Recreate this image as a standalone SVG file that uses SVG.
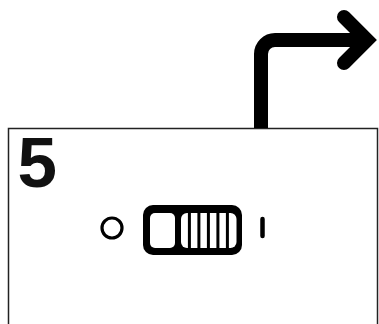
<svg xmlns="http://www.w3.org/2000/svg" width="379" height="324" viewBox="0 0 379 324">
<style>
.frame{fill:#fff;stroke:#222;stroke-width:1.5}
.arrow{fill:none;stroke:#000;stroke-width:14}
.num{font-family:"Liberation Sans",Arial,sans-serif;font-weight:bold;font-size:71px;fill:#111}
</style>
<rect width="379" height="324" fill="#fff"/>
<g id="panel">
<rect class="frame" x="8.5" y="128.5" width="369" height="210"/>
<text class="num" x="17.5" y="187">5</text>
</g>
<g id="connectors">
<path class="arrow" d="M261,128 V54 A14,14 0 0 1 275,40 H366"/>
<polyline class="arrow" points="344,17 367,40 344,63" stroke-linecap="round" stroke-linejoin="miter"/>
</g>
<g id="switch">
<circle cx="112" cy="228" r="10" fill="none" stroke="#000" stroke-width="3.2"/>
<rect x="143" y="205" width="99" height="50" rx="10" fill="#000"/>
<rect x="150" y="213" width="25" height="35" rx="5" fill="#fff"/>
<rect x="181" y="213" width="55.5" height="35" rx="6" fill="#fff"/>
<g fill="#000">
<rect x="187.9" y="213" width="3" height="35"/>
<rect x="197.4" y="213" width="3" height="35"/>
<rect x="206.9" y="213" width="3" height="35"/>
<rect x="216.4" y="213" width="3" height="35"/>
<rect x="225.9" y="213" width="3" height="35"/>
</g>
<line x1="262.5" y1="219" x2="262.5" y2="236" stroke="#000" stroke-width="4.5" stroke-linecap="round"/>
</g>
</svg>
